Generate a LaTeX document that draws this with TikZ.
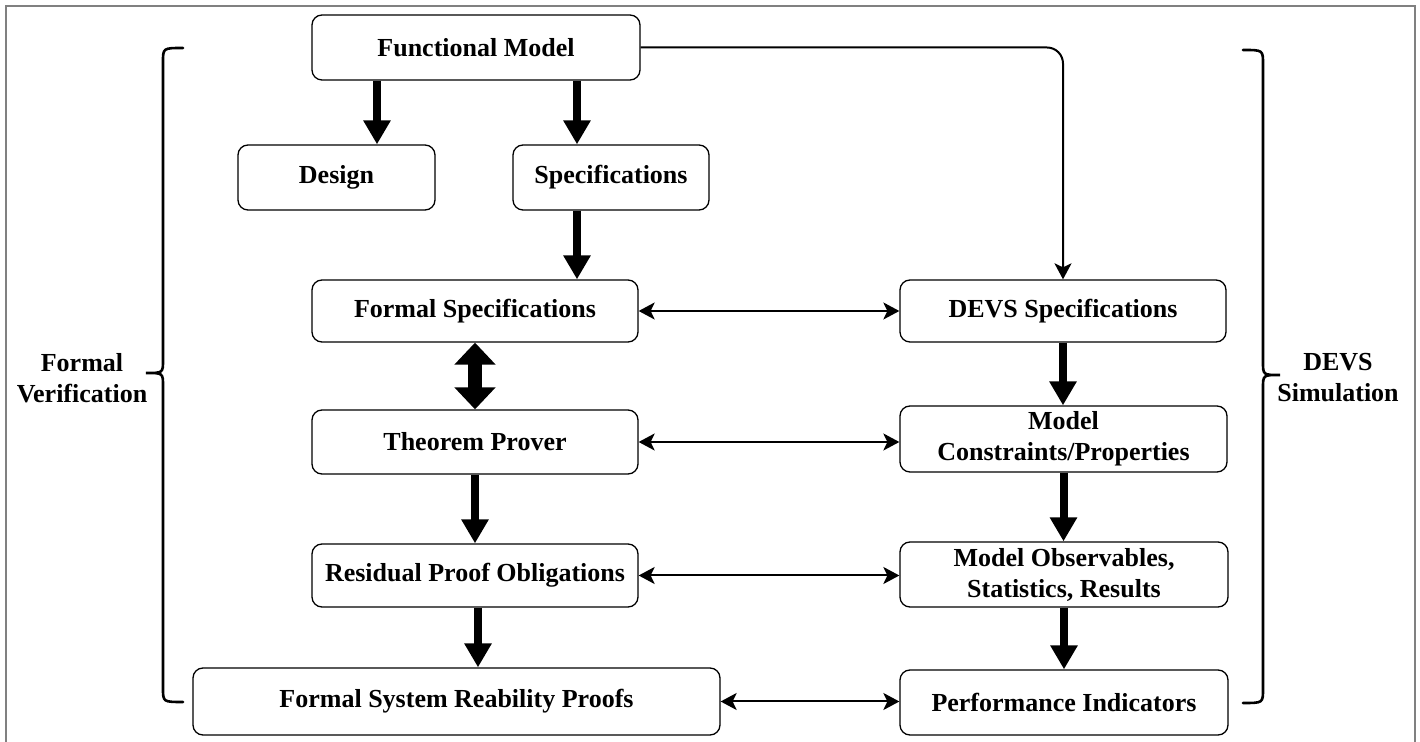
\documentclass[tikz,border=0pt]{standalone}
\usepackage{fontspec}
\setmainfont{Liberation Serif}
\usepackage{tikz}
\usetikzlibrary{arrows.meta,positioning,calc}

\begin{document}
\begin{tikzpicture}[
    x=0.5pt, y=-0.5pt,
    stage/.style={rectangle, rounded corners=5pt, draw=black, fill=white,
                  font=\fontsize{13}{15.5}\selectfont\bfseries, align=center,
                  inner sep=0pt, line width=0.65pt},
    bigflow/.style={-{Triangle[width=13pt,length=12pt]}, line width=4pt},
    bothflow/.style={{Triangle[width=20pt,length=11pt]}-{Triangle[width=20pt,length=11pt]},
                     line width=7pt},
    link/.style={{Stealth[length=8pt,width=8.5pt,inset=2pt]}-{Stealth[length=8pt,width=8.5pt,inset=2pt]},
                 line width=1pt},
    curly/.style={line width=1.3pt, line cap=round},
    side/.style={font=\fontsize{13}{15.5}\selectfont\bfseries, align=center}
  ]
  \useasboundingbox (0,0) rectangle (1420,742);
  \draw[gray, line width=0.8pt] (6,742) -- (6,6) -- (1415,6) -- (1415,742);

  % left column
  \node[stage, minimum width=164pt, minimum height=32.5pt] (fm) at (476,47.5) {Functional Model};
  \node[stage, minimum width=98.5pt, minimum height=32.5pt] (dsgn) at (336.5,177.5) {Design};
  \node[stage, minimum width=98pt, minimum height=32.5pt] (spec) at (611,177.5) {Specifications};
  \node[stage, minimum width=163pt, minimum height=31pt] (fspec) at (475,311) {Formal Specifications};
  \node[stage, minimum width=163pt, minimum height=32pt] (tp) at (475,442) {Theorem Prover};
  \node[stage, minimum width=163pt, minimum height=31.5pt] (rpo) at (475,575.5) {Residual Proof Obligations};
  \node[stage, minimum width=263.5pt, minimum height=33.5pt] (fsrp) at (456.5,701.5) {Formal System Reability Proofs};

  % right column
  \node[stage, minimum width=163pt, minimum height=31pt] (devs) at (1063,311) {DEVS Specifications};
  \node[stage, minimum width=163.5pt, minimum height=33pt] (mcp) at (1063.5,439) {Model\\Constraints/Properties};
  \node[stage, minimum width=164pt, minimum height=32.5pt] (mos) at (1064,574.5) {Model Observables,\\Statistics, Results};
  \node[stage, minimum width=164pt, minimum height=32.5pt] (perf) at (1064,702.5) {Performance Indicators};

  % thick flow
  \draw[bigflow] ([xshift=-49.5pt]fm.south) -- ([xshift=-49.5pt]fm.south |- dsgn.north);
  \draw[bigflow] ([xshift=50.5pt]fm.south) -- ([xshift=50.5pt]fm.south |- spec.north);
  \draw[bigflow] ([xshift=-17pt]spec.south) -- ([xshift=-17pt]spec.south |- fspec.north);
  \draw[bothflow] (fspec.south) -- (tp.north);
  \draw[bigflow] (tp.south) -- (rpo.north);
  \draw[bigflow] ([xshift=1.5pt]rpo.south) -- ([xshift=1.5pt]rpo.south |- fsrp.north);
  \draw[bigflow] (devs.south) -- (devs.south |- mcp.north);
  \draw[bigflow] (mcp.south) -- (mcp.south |- mos.north);
  \draw[bigflow] (mos.south) -- (mos.south |- perf.north);

  % thin links
  \draw[-{Stealth[length=8pt,width=8.5pt,inset=2pt]}, line width=1pt, rounded corners=8pt]
    (fm.east) -| (devs.north);
  \draw[link] (fspec.east) -- (devs.west);
  \draw[link] (tp.east) -- (tp.east -| mcp.west);
  \draw[link] (rpo.east) -- (rpo.east -| mos.west);
  \draw[link] (fsrp.east) -- (fsrp.east -| perf.west);

  % braces
  \draw[curly] (183,48) .. controls (163,48) .. (163,62) -- (163,360)
    .. controls (163,373) .. (146,373) .. controls (163,373) .. (163,386)
    -- (163,688) .. controls (163,702) .. (183,702);
  \draw[curly] (1243,50) .. controls (1263,50) .. (1263,64) -- (1263,362)
    .. controls (1263,375) .. (1280,375) .. controls (1263,375) .. (1263,388)
    -- (1263,689) .. controls (1263,703) .. (1243,703);
  \node[side] (fv) at (82,378) {Formal\\Verification};
  \node[side] (ds) at (1338,378) {DEVS\\Simulation};
\end{tikzpicture}
\end{document}
